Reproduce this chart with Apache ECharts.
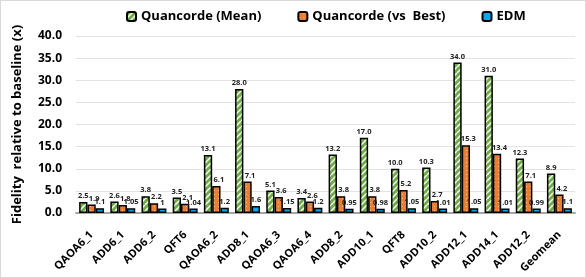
<!DOCTYPE html>
<html><head><meta charset="utf-8">
<script src="https://cdn.jsdelivr.net/npm/echarts@6/dist/echarts.min.js"></script>
<style>
html,body{margin:0;padding:0;background:#fff;}
#c{position:absolute;left:0;top:0;width:584px;height:276px;border:1px solid #d9d9d9;}
</style></head><body>
<div id="c"></div>
<script>
const categories = ['QAOA6_1','ADD6_1','ADD6_2','QFT6','QAOA6_2','ADD8_1','QAOA6_3','QAOA6_4','ADD8_2','ADD10_1','QFT8','ADD10_2','ADD12_1','ADD14_1','ADD12_2','Geomean'];
const quancordeMean = [2.5,2.6,3.8,3.5,13.1,28.0,5.1,3.4,13.2,17.0,10.0,10.3,34.0,31.0,12.3,8.9];
const quancordeBest = [1.9,1.8,2.2,2.1,6.1,7.1,3.6,2.6,3.8,3.8,5.2,2.7,15.3,13.4,7.1,4.2];
const edm = [1.1,1.05,1,1.04,1.2,1.6,1.15,1.2,0.95,0.98,1.05,1.01,1.05,1.01,0.99,1.1];
const yTicks = [0,5,10,15,20,25,30,35,40];

function stripes(){
  const c=document.createElement('canvas');c.width=6;c.height=6;
  const g=c.getContext('2d');g.fillStyle='#70ad47';g.fillRect(0,0,6,6);
  g.strokeStyle='#ffffff';g.lineWidth=1.4;
  for(let k=-6;k<=12;k+=6){g.beginPath();g.moveTo(k,6);g.lineTo(k+6,0);g.stroke();}
  return {image:c,repeat:'repeat'};
}
function dots(){
  const c=document.createElement('canvas');c.width=4;c.height=4;
  const g=c.getContext('2d');g.fillStyle='#ed7d31';g.fillRect(0,0,4,4);
  g.fillStyle='#f8c9a8';g.fillRect(1,1,1,1);
  return {image:c,repeat:'repeat'};
}
const FONT='"Open Sans", "Noto Sans", sans-serif';
const lbl = (fmt,dx)=>({show:true,position:'top',distance:2,offset:[dx||0,0],fontSize:7.5,fontWeight:'bold',color:'#222',fontFamily:FONT,formatter:fmt});
const chart=echarts.init(document.getElementById('c'),null,{renderer:'canvas'});
chart.setOption({
  animation:false,
  textStyle:{fontFamily:FONT},
  legend:{top:4,left:120,itemWidth:9,itemHeight:9,itemGap:36,
    textStyle:{fontSize:13,fontWeight:'bold',color:'#000',fontFamily:FONT},
    data:['Quancorde (Mean)','Quancorde (vs  Best)','EDM']},
  grid:{left:75,right:10,top:35,bottom:64,containLabel:false},
  xAxis:{type:'category',data:categories,
    axisLine:{lineStyle:{color:'#a6a6a6',width:2}},axisTick:{show:false},
    axisLabel:{rotate:45,interval:0,fontSize:11,fontWeight:'bold',color:'#000',fontFamily:FONT,margin:20}},
  yAxis:{type:'value',min:yTicks[0],max:yTicks[yTicks.length-1],interval:5,
    name:'Fidelity  relative to baseline (x)',nameLocation:'middle',nameGap:52,
    nameTextStyle:{fontSize:13,fontWeight:'bold',color:'#000',fontFamily:FONT},
    axisLine:{show:false},axisTick:{show:false},
    axisLabel:{formatter:v=>v.toFixed(1),fontSize:12,fontWeight:'bold',color:'#000',fontFamily:FONT,margin:14},
    splitLine:{lineStyle:{color:'#e3e3e3',width:1}}},
  series:[
    {name:'Quancorde (Mean)',type:'bar',data:quancordeMean,barGap:'0%',barCategoryGap:'20%',
     itemStyle:{color:stripes(),borderColor:'#000',borderWidth:1.5},label:lbl(p=>p.value.toFixed(1))},
    {name:'Quancorde (vs  Best)',type:'bar',data:quancordeBest,
     itemStyle:{color:dots(),borderColor:'#000',borderWidth:1.5},label:lbl(p=>p.value.toFixed(1),2.5)},
    {name:'EDM',type:'bar',data:edm,
     itemStyle:{color:'#00a9ea',borderColor:'#000',borderWidth:1.5},label:lbl(p=>String(p.value))}
  ]
});
</script></body></html>
